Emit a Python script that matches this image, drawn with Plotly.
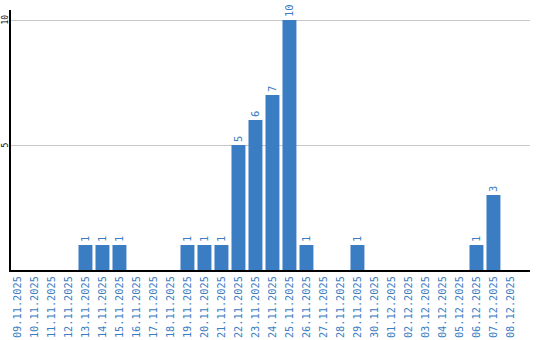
import plotly.graph_objects as go

dates = ["09.11.2025","10.11.2025","11.11.2025","12.11.2025","13.11.2025","14.11.2025",
         "15.11.2025","16.11.2025","17.11.2025","18.11.2025","19.11.2025","20.11.2025",
         "21.11.2025","22.11.2025","23.11.2025","24.11.2025","25.11.2025","26.11.2025",
         "27.11.2025","28.11.2025","29.11.2025","30.11.2025","01.12.2025","02.12.2025",
         "03.12.2025","04.12.2025","05.12.2025","06.12.2025","07.12.2025","08.12.2025"]
values = [0,0,0,0,1,1,1,0,0,0,1,1,1,5,6,7,10,1,0,0,1,0,0,0,0,0,0,1,3,0]
labels = [str(v) if v else "" for v in values]
y_ticks = [5, 10]

BLUE = "#3b7dc2"
fig = go.Figure(go.Bar(
    x=dates, y=values, text=labels, textposition="outside", textangle=-90,
    marker=dict(color=BLUE, line=dict(width=0)),
    textfont=dict(family="DejaVu Sans Mono", size=10.5, color=BLUE),
    cliponaxis=False,
))
for t in y_ticks:
    fig.add_annotation(x=-0.0125, xref="paper", y=t, yref="y", text=str(t),
                       textangle=-90, showarrow=False, xanchor="center", yanchor="middle",
                       font=dict(family="DejaVu Sans Mono", size=8, color="black"))
fig.update_layout(
    width=540, height=340,
    margin=dict(l=11, r=10, t=10, b=70),
    paper_bgcolor="white", plot_bgcolor="white",
    bargap=0.18, showlegend=False,
    xaxis=dict(type="category", range=[-0.38, 30.15], tickangle=-90, automargin=False,
               tickfont=dict(family="DejaVu Sans Mono", size=10.3, color=BLUE),
               showline=True, linecolor="black", linewidth=2, ticks="", showgrid=False),
    yaxis=dict(range=[0, 10.4], tickvals=y_ticks, showticklabels=False, automargin=False,
               showline=True, linecolor="black", linewidth=2, ticks="",
               gridcolor="#c8c8c8", gridwidth=1, zeroline=False),
)
fig.write_html("out.html")
